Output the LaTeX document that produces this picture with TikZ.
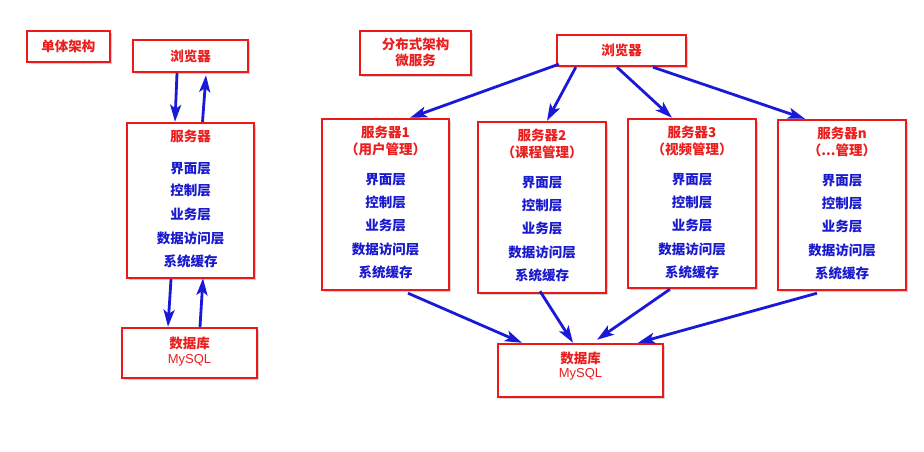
\documentclass[tikz,border=0pt]{standalone}
\usepackage{fontspec}
\setmainfont{Liberation Sans}
\newfontfamily\cjk{Noto Sans CJK SC}
\usetikzlibrary{shadows,arrows.meta,calc}
\definecolor{boxred}{RGB}{235,25,25}
\definecolor{txtred}{RGB}{235,30,30}
\definecolor{txtblue}{RGB}{25,25,205}
\definecolor{arrblue}{RGB}{25,25,215}
\tikzset{
  box/.style={draw=boxred, line width=2.4pt, fill=white,
    drop shadow={opacity=0.35, shadow xshift=2pt, shadow yshift=-2pt},
    inner sep=0pt},
  ttl/.style={text=txtred, inner sep=0pt, font=\cjk\bfseries\fontsize{13.5}{15}\selectfont},
  lyr/.style={text=txtblue, inner sep=0pt, font=\cjk\bfseries\fontsize{13.5}{15}\selectfont},
  eng/.style={text=txtred, inner sep=0pt, font=\fontsize{13}{15}\selectfont},
  arr/.style={draw=arrblue, line width=2.8pt, -{Stealth[length=17pt,width=11pt,inset=4pt]}},
}
\newcommand{\srvtext}[3]{%
  \node[ttl] (#1t1) at ($(#1.north)+(0,15)$) {#2};
  \node[ttl] (#1t2) at ($(#1.north)+(0,32)$) {#3};
  \node[lyr] (#1l1) at ($(#1.north)+(0,62)$) {界面层};
  \node[lyr] (#1l2) at ($(#1.north)+(0,85)$) {控制层};
  \node[lyr] (#1l3) at ($(#1.north)+(0,108)$) {业务层};
  \node[lyr] (#1l4) at ($(#1.north)+(0,132)$) {数据访问层};
  \node[lyr] (#1l5) at ($(#1.north)+(0,155)$) {系统缓存};
}
\begin{document}
\begin{tikzpicture}[x=1pt,y=-1pt]
\useasboundingbox (0,0) rectangle (924,452);
% ---- left: monolith
\node[box, minimum width=83pt, minimum height=31pt] (mono) at (68.5,46.5) {};
\node[ttl] (monot) at (mono.center) {单体架构};
\node[box, minimum width=115pt, minimum height=32pt] (bL) at (190.5,56) {};
\node[ttl] (bLt) at (bL.center) {浏览器};
\node[box, minimum width=127pt, minimum height=155pt] (sL) at (190.5,200.5) {};
\node[ttl] (sLt) at ($(sL.north)+(0,15)$) {服务器};
\node[lyr] (sLl1) at ($(sL.north)+(0,47)$) {界面层};
\node[lyr] (sLl2) at ($(sL.north)+(0,69)$) {控制层};
\node[lyr] (sLl3) at ($(sL.north)+(0,93)$) {业务层};
\node[lyr] (sLl4) at ($(sL.north)+(0,117)$) {数据访问层};
\node[lyr] (sLl5) at ($(sL.north)+(0,140)$) {系统缓存};
\node[box, minimum width=135pt, minimum height=50pt] (dL) at (189.5,353) {};
\node[ttl] (dLt) at ($(dL.north)+(0,17)$) {数据库};
\node[eng] (dLm) at ($(dL.north)+(0,34)$) {MySQL};
% ---- right: microservices
\node[box, minimum width=111pt, minimum height=44pt] (dist) at (415.5,53) {};
\node[ttl] (distt1) at ($(dist.north)+(0,15)$) {分布式架构};
\node[ttl] (distt2) at ($(dist.north)+(0,31)$) {微服务};
\node[box, minimum width=129pt, minimum height=31pt] (bR) at (621.5,50.5) {};
\node[ttl] (bRt) at (bR.center) {浏览器};
\node[box, minimum width=127pt, minimum height=171pt] (s1) at (385.5,204.5) {};
\node[box, minimum width=128pt, minimum height=171pt] (s2) at (542,207.5) {};
\node[box, minimum width=128pt, minimum height=169pt] (s3) at (692,203.5) {};
\node[box, minimum width=128pt, minimum height=170pt] (sn) at (842,205) {};
\srvtext{s1}{服务器1}{（用户管理）}
\srvtext{s2}{服务器2}{（课程管理）}
\srvtext{s3}{服务器3}{（视频管理）}
\srvtext{sn}{服务器n}{（...管理）}
\node[box, minimum width=165pt, minimum height=53pt] (dR) at (580.5,370.5) {};
\node[ttl] (dRt) at ($(dR.north)+(0,16)$) {数据库};
\node[eng] (dRm) at ($(dR.north)+(0,32)$) {MySQL};
% ---- arrows left
\draw[arr] ($(bL.south)+(-13.5,0)$) -- ($(sL.north)+(-15.5,0)$);
\draw[arr] ($(sL.north)+(12,0)$) -- ($(bL.south)+(15.5,2)$);
\draw[arr] ($(sL.south)+(-19.5,0)$) -- ($(dL.north)+(-21.5,0)$);
\draw[arr] ($(dL.north)+(10.5,0)$) -- ($(sL.south)+(12.5,-1)$);
% ---- arrows right
\draw[arr] ($(bR.south west)+(3,-3)$) -- ($(s1.north)+(24.5,0)$);
\draw[arr] ($(bR.south west)+(20,0)$) -- ($(s2.north)+(5,0)$);
\draw[arr] ($(bR.south)+(-4.5,0)$) -- ($(s3.north)+(-20,0)$);
\draw[arr] ($(bR.south)+(31.5,0)$) -- ($(sn.north)+(-37,0)$);
\draw[arr] ($(s1.south)+(22.5,2)$) -- ($(dR.north)+(-58.5,0)$);
\draw[arr] ($(s2.south)+(-2,-3)$) -- ($(dR.north)+(-7.5,0)$);
\draw[arr] ($(s3.south)+(-22,0)$) -- ($(dR.north)+(16.5,-3)$);
\draw[arr] ($(sn.south)+(-25,2)$) -- ($(dR.north)+(57.5,0)$);
\end{tikzpicture}
\end{document}
